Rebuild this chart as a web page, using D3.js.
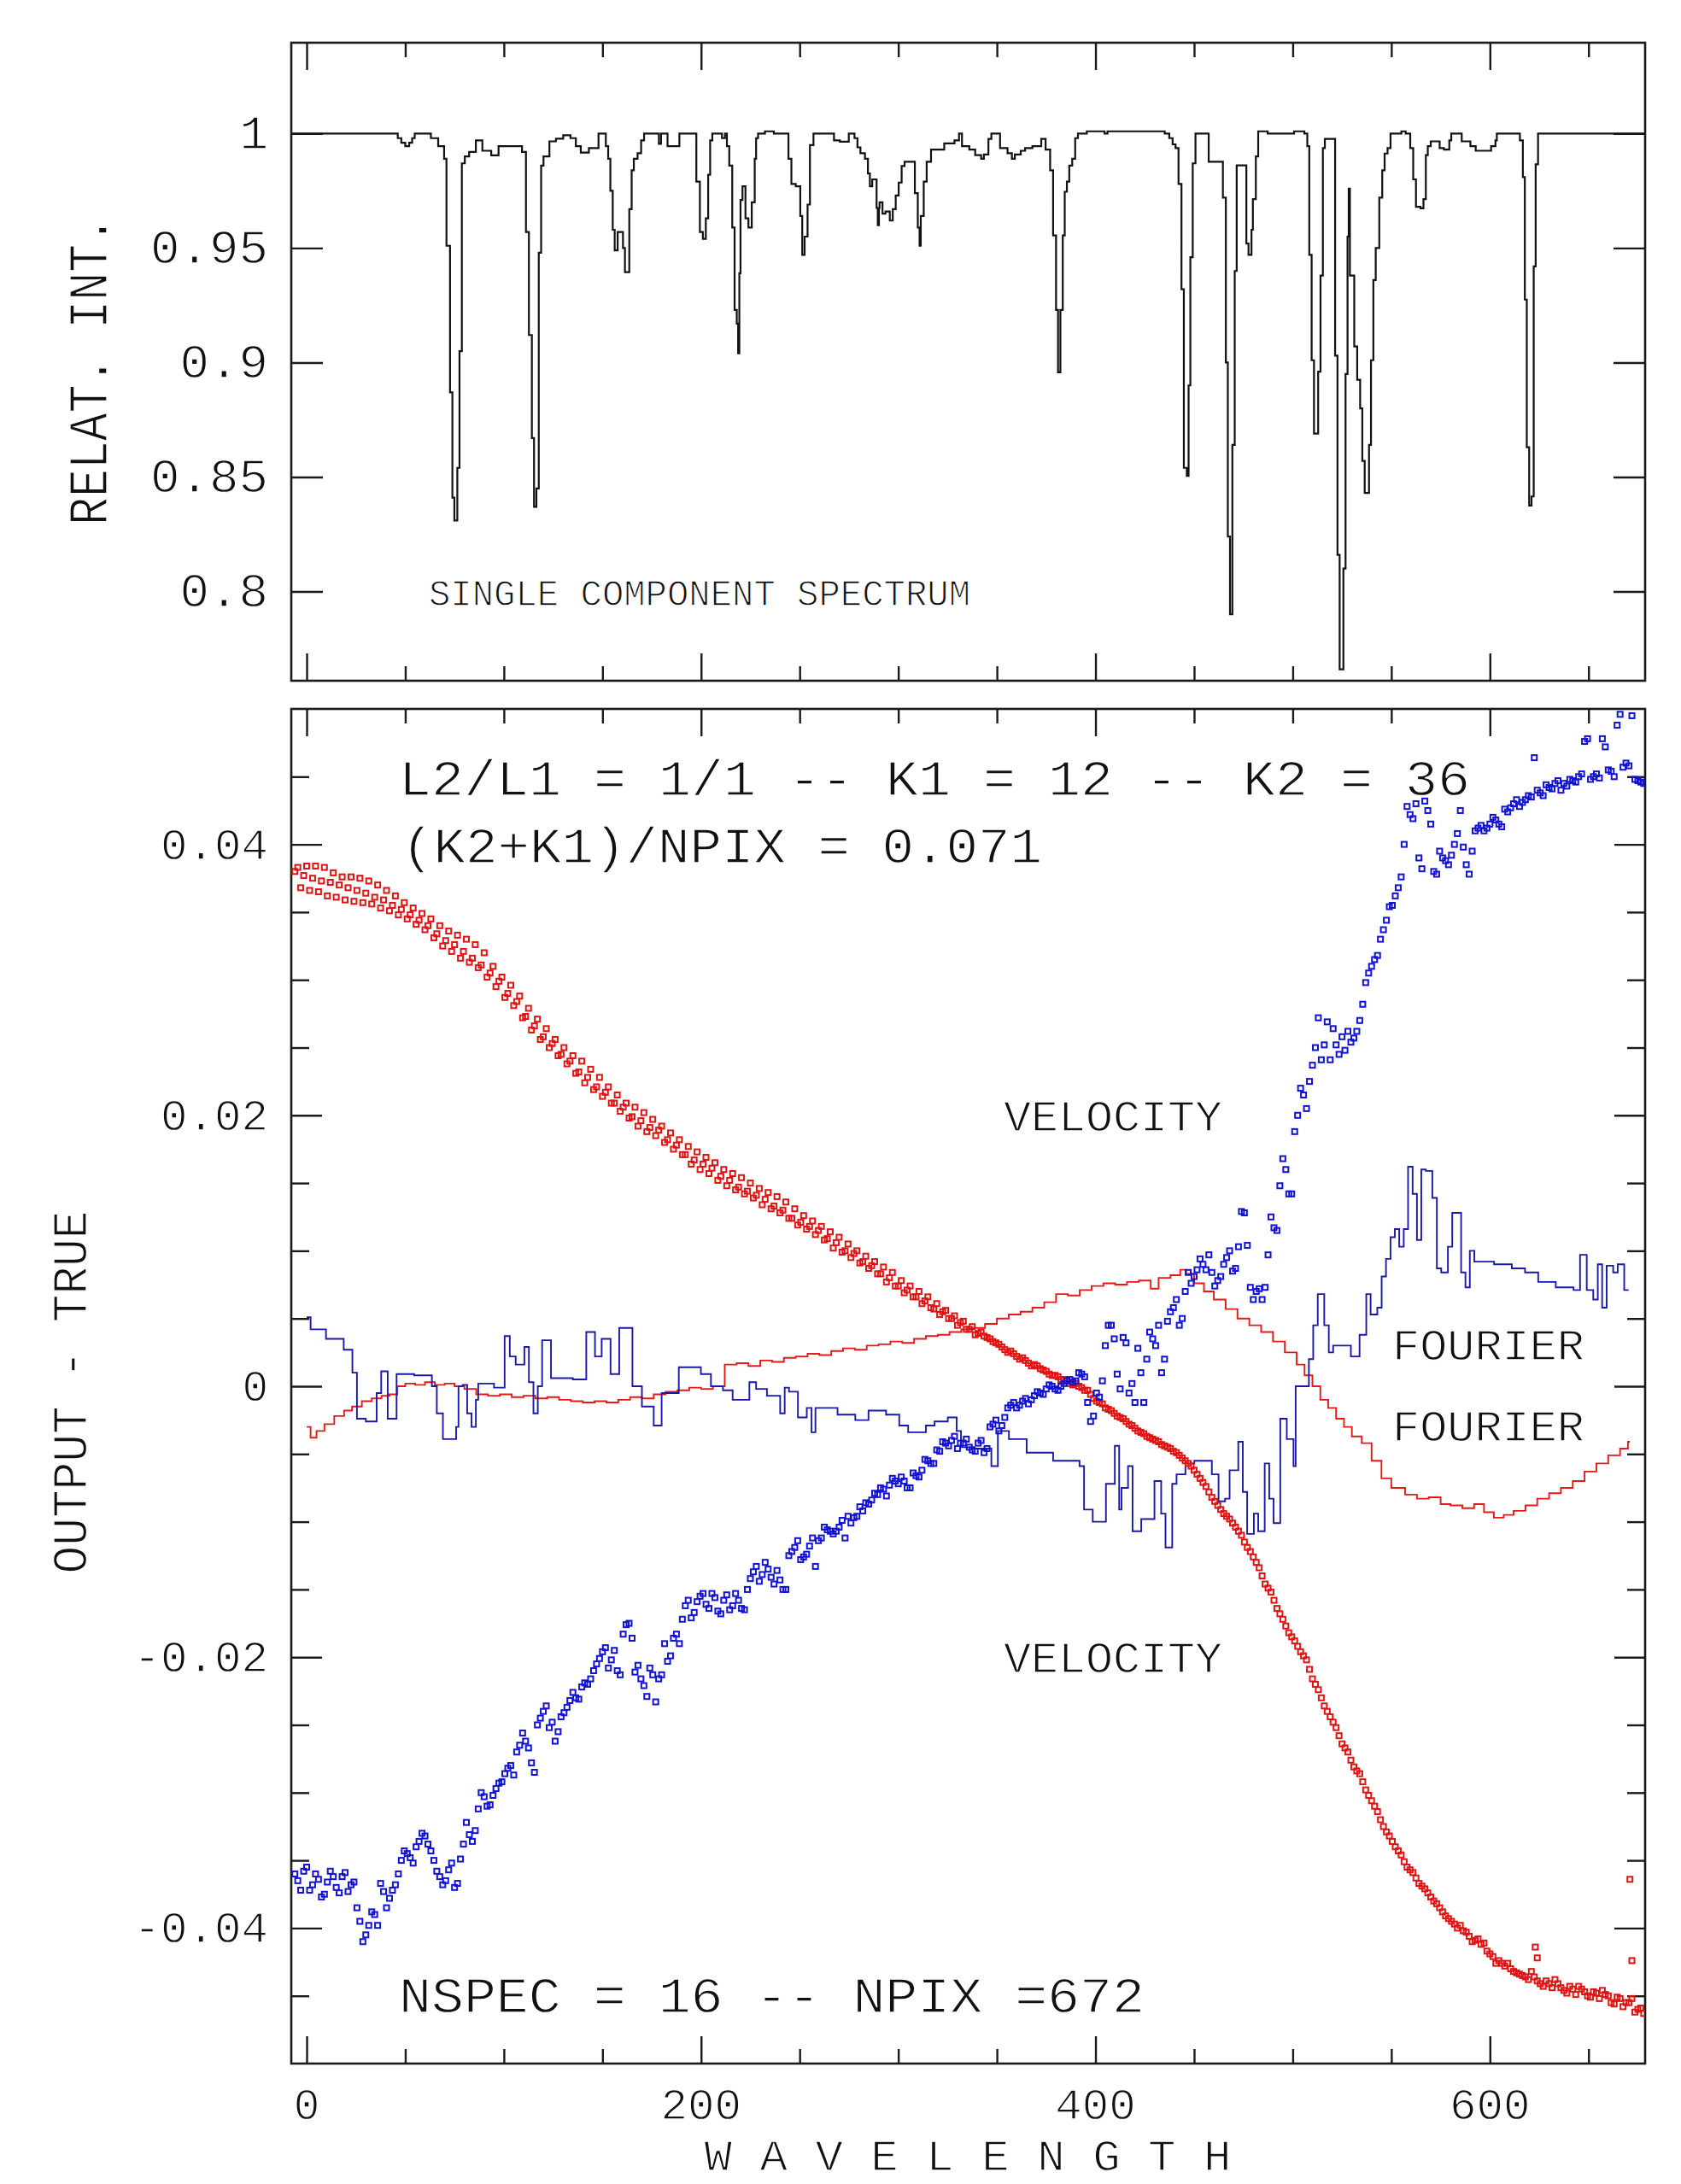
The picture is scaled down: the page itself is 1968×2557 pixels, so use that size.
<!DOCTYPE html>
<html>
<head>
<meta charset="utf-8">
<script src="https://cdn.jsdelivr.net/npm/d3@7"></script>
<style>
  body { margin: 0; background: #fff; }
  text { font-family: "Liberation Mono", "DejaVu Sans Mono", monospace; fill: #111; stroke: #fff; stroke-width: 1.3px; }
</style>
</head>
<body>
<svg id="chart" width="1968" height="2557"></svg>
<script>
// ---- data ----
// top panel: single component spectrum, steps as [pixel, relative intensity]
const spectrumSteps = [
  [-8, 1.000], [46.2, 0.998], [48, 0.996], [50, 0.9945], [52, 0.996], [53.5, 0.998], [54.8, 1.000],
  [63.0, 0.998], [66.7, 0.9945], [69.7, 0.989], [70.9, 0.951], [72.7, 0.887], [73.9, 0.841], [74.9, 0.831],
  [76.4, 0.854], [77.5, 0.905], [78.7, 0.987], [80.2, 0.990], [82.4, 0.992], [85.8, 0.997], [89.1, 0.9925],
  [93.6, 0.9905], [97.3, 0.9945], [109.2, 0.992], [111.2, 0.957], [112.7, 0.912], [114.2, 0.867], [115.3, 0.837],
  [116.5, 0.845], [117.7, 0.948], [118.9, 0.986], [120.1, 0.990], [123.1, 0.9966], [126.4, 0.9978], [130.1, 0.9993],
  [133.8, 0.998], [136.5, 0.9945], [139.0, 0.9917], [143.1, 0.9937], [148.0, 1.000], [151.7, 0.9945], [152.9, 0.989],
  [154.0, 0.975], [155.2, 0.958], [156.2, 0.949], [157.7, 0.957], [160.4, 0.950], [161.4, 0.9395], [163.6, 0.967],
  [164.8, 0.984], [165.9, 0.989], [167.8, 0.9914], [169.6, 0.997], [171.1, 1.000], [178.6, 0.9955], [179.7, 1.000],
  [183.0, 0.9945], [189.0, 1.000], [197.6, 0.979], [199.4, 0.957], [200.9, 0.954], [202.4, 0.963], [203.6, 0.982],
  [204.6, 0.997], [205.7, 1.000], [210.6, 0.998], [212.1, 1.000], [213.1, 0.9945], [214.3, 0.986], [215.8, 0.959],
  [217.0, 0.923], [218.1, 0.917], [218.8, 0.904], [219.4, 0.939], [220.0, 0.971], [221.0, 0.977], [222.5, 0.963],
  [224.0, 0.959], [225.7, 0.970], [227.2, 0.989], [227.9, 0.998], [228.9, 1.000], [232.4, 1.001], [236.9, 1.000],
  [244.3, 0.989], [245.8, 0.978], [248.0, 0.977], [250.3, 0.964], [251.3, 0.947], [252.5, 0.955], [254.0, 0.969],
  [255.2, 0.995], [257.0, 1.000], [267.4, 0.997], [270.4, 0.9965], [274.9, 1.000], [277.8, 0.998], [279.3, 0.994],
  [280.8, 0.9914], [283.1, 0.989], [284.6, 0.9826], [285.6, 0.977], [286.8, 0.980], [289.0, 0.9675], [289.6, 0.960],
  [290.2, 0.9675], [290.5, 0.970], [292.0, 0.965], [293.5, 0.966], [295.7, 0.962], [297.2, 0.967], [298.7, 0.973],
  [300.2, 0.9786], [301.7, 0.9858], [303.2, 0.9877], [308.4, 0.974], [309.9, 0.959], [310.8, 0.951], [311.4, 0.964],
  [312.9, 0.979], [314.4, 0.9877], [316.6, 0.993], [323.3, 0.9957], [328.5, 0.997], [330.8, 1.000], [332.3, 0.9945],
  [336.0, 0.993], [339.0, 0.9906], [342.0, 0.989], [343.4, 0.9909], [345.7, 0.9977], [347.2, 1.000], [351.6, 0.9937],
  [355.4, 0.9914], [357.6, 0.989], [359.1, 0.9909], [362.1, 0.9925], [364.3, 0.9937], [368.0, 0.9945], [372.5, 0.9977],
  [374.7, 0.993], [377.0, 0.984], [378.5, 0.9555], [380.0, 0.923], [381.0, 0.8957], [382.2, 0.923], [383.4, 0.9555],
  [384.4, 0.9746], [385.5, 0.979], [386.7, 0.986], [388.2, 0.989], [389.7, 0.998], [391.1, 1.000], [395.6, 1.001],
  [404.6, 1.000], [406.1, 1.001], [435.1, 1.000], [437.4, 0.998], [439.1, 0.9953], [440.6, 0.9937], [442.1, 0.978],
  [443.6, 0.932], [444.8, 0.854], [446.3, 0.8505], [447.2, 0.890], [448.1, 0.946], [449.3, 0.987], [450.7, 1.000],
  [457.4, 0.9877], [464.6, 0.972], [466.1, 0.900], [467.1, 0.824], [468.2, 0.790], [469.4, 0.864], [470.6, 0.940],
  [471.6, 0.9861], [476.5, 0.952], [477.6, 0.947], [479.1, 0.958], [479.8, 0.9714], [481.3, 0.990], [482.5, 1.001],
  [487.3, 1.000], [500.7, 1.001], [505.9, 1.000], [507.4, 0.9945], [508.4, 0.947], [509.6, 0.901], [510.8, 0.869],
  [512.9, 0.896], [514.1, 0.938], [515.3, 0.9937], [516.3, 0.9977], [521.5, 0.903], [522.7, 0.816], [523.8, 0.766],
  [525.7, 0.810], [526.8, 0.895], [527.8, 0.955], [528.4, 0.976], [529.0, 0.938], [531.2, 0.907], [532.7, 0.8925],
  [534.2, 0.880], [535.3, 0.857], [536.5, 0.843], [538.7, 0.864], [539.7, 0.901], [540.9, 0.936], [542.1, 0.950],
  [543.9, 0.972], [545.4, 0.984], [546.6, 0.9913], [548.1, 0.9937], [549.6, 1.000], [555.1, 1.001], [557.3, 1.000],
  [559.6, 0.9937], [561.1, 0.980], [562.5, 0.968], [564.8, 0.9674], [566.3, 0.9714], [567.5, 0.9906], [568.5, 0.9945],
  [570.0, 0.9966], [574.5, 0.9937], [576.7, 0.993], [579.4, 0.997], [580.4, 1.000], [585.7, 0.9966], [590.1, 0.9945],
  [592.8, 0.9925], [600.6, 0.9945], [602.8, 0.997], [603.5, 1.000], [615.2, 0.997], [616.7, 0.981], [617.7, 0.9275],
  [618.7, 0.863], [619.9, 0.8375], [621.1, 0.8415], [622.2, 0.942], [623.2, 0.9866], [624.4, 1.000], [680, 1.000]
]

// bottom panel, output - true in units of 1e-4
// fourier method, blue trace, steps as [pixel, value]
const fourierBlue = [
  [0, 51], [2, 42], [9.8, 35], [18.8, 27], [23.2, 10], [25.5, -24], [30, -26], [35.5, -5], [37.8, 11], [41.1, -24],
  [45.6, 9], [54.5, 8], [63.5, 0], [66, -20], [69.1, -39], [75.8, -30], [77, 0], [79.1, 1], [81.4, -20], [83.6, -30],
  [85.8, -10], [87, 2], [95, -1], [100.4, 37], [103, 22], [106, 16], [110.4, 29], [112.7, 3], [115, -20], [117.2, 0],
  [119.4, 34], [123.9, 6], [135, 5], [141.8, 40], [146.2, 22], [149.6, 35], [154.1, 9], [158.5, 43], [165.2, 0],
  [170, -15], [176, -29], [180, -5], [188.7, 14], [199.9, 9], [205, 0], [211.1, -3], [216, -10], [224.5, 3],
  [227.9, -2], [233.4, -7], [240.1, -20], [242.4, -1], [244.6, -4], [249.1, -23], [253.6, -16], [256, -34], [258, -16],
  [269.2, -21], [278.2, -25], [284.9, -18], [293.8, -21], [300.5, -29], [305, -34], [314, -29], [318.4, -26],
  [325.1, -23], [329.6, -33], [331.8, -45], [338.1, -46], [347.2, -59], [350.5, -33], [356.1, -39], [365.1, -49],
  [378.5, -55], [391.9, -59], [394.2, -91], [398.6, -100], [405.3, -72], [409.8, -44], [412, -91], [413.2, -75],
  [416.5, -59], [418.8, -107], [423.2, -98], [429.9, -70], [433.3, -94], [435.5, -119], [438.9, -72], [441.1, -65],
  [445.6, -57], [450.1, -55], [459, -65], [462.4, -85], [465.7, -83], [468, -62], [472.4, -41], [474.7, -78],
  [476.9, -109], [480.3, -94], [482.5, -107], [485.8, -57], [488.1, -83], [490.3, -101], [493.7, -24], [497, -39],
  [500.4, -59], [501.5, 0], [508.2, 20], [510.4, 45], [512.7, 68], [516, 45], [518.3, 25], [520.5, 30], [529.5, 22],
  [533.9, 38], [537.3, 68], [539.5, 53], [542.9, 58], [545.1, 81], [547.3, 94], [549.6, 110], [551.8, 116],
  [554, 103], [556.3, 116], [558.5, 162], [560.8, 142], [563, 108], [565.2, 160], [567.5, 159], [570.8, 139],
  [573.1, 87], [575.3, 84], [578.7, 103], [580.9, 128], [585.4, 84], [587.6, 73], [589.8, 100], [592.1, 92],
  [602.1, 90], [611.1, 87], [617.8, 84], [624.5, 77], [633.4, 73], [642.4, 71], [645.7, 97], [649.1, 71],
  [652.4, 64], [654.7, 90], [656.9, 58], [659.2, 89], [662.5, 84], [664.8, 90], [668.1, 71], [670.3, 71]
]

// fourier method, red trace
const fourierRed = [
  [0, -30], [2, -38], [5, -33], [9, -28], [14, -22], [19, -18], [23, -15], [28, -11], [33, -9], [38, -7],
  [42, -6], [46, 0], [50, 2], [55, 1], [60, 3], [65, 1], [70, 2], [75, 0], [80, -2], [86, -6], [92, -7],
  [98, -6], [104, -8], [110, -7], [116, -9], [122, -8], [128, -10], [134, -11], [140, -12], [146, -11],
  [152, -12], [158, -10], [164, -8], [170, -9], [176, -6], [182, -4], [188, -3], [194, -1], [200, -2],
  [206, 0], [212, 16], [218, 17], [224, 15], [230, 19], [236, 18], [242, 21], [248, 22], [254, 24], [260, 23],
  [266, 26], [272, 28], [278, 27], [284, 30], [290, 31], [296, 33], [302, 32], [308, 35], [314, 37], [320, 38],
  [326, 40], [332, 42], [338, 43], [344, 46], [350, 50], [356, 53], [362, 55], [368, 58], [374, 62], [380, 68],
  [386, 67], [392, 71], [398, 74], [404, 76], [410, 75], [416, 77], [422, 78], [428, 72], [432, 80], [438, 82],
  [443, 86], [446, 83], [450, 76], [455, 70], [460, 64], [466, 57], [472, 50], [478, 45], [484, 40], [490, 33],
  [496, 25], [502, 16], [506, 8], [510, 0], [514, -10], [518, -16], [522, -24], [526, -30], [530, -37],
  [535, -42], [540, -55], [545, -68], [550, -75], [557, -80], [563, -83], [569, -82], [575, -87], [580, -88],
  [586, -90], [592, -87], [597, -93], [602, -97], [607, -95], [612, -92], [618, -88], [624, -83], [630, -79],
  [636, -75], [642, -70], [648, -63], [654, -57], [660, -51], [666, -46], [670, -41], [671, -41]
]

// velocity method: first estimate set, every third pixel from pixel -6
const velocityPix = d3.range(-6, 679, 3)
const velocityRed = [
  380, 368, 384, 375, 365, 383, 372, 361, 376, 368, 358,
  375, 364, 356, 370, 359, 351, 362, 352, 345, 353,
  344, 337, 345, 334, 325, 336, 326, 316, 330, 316,
  309, 320, 305, 295, 302, 290, 281, 288, 273, 263,
  271, 258, 250, 256, 245, 238, 244, 232, 224, 234,
  221, 214, 221, 209, 203, 209, 199, 192, 202, 191,
  185, 192, 182, 175, 182, 171, 164, 173, 164, 157,
  165, 155, 148, 157, 147, 142, 150, 141, 134, 143,
  133, 128, 136, 124, 119, 126, 118, 112, 118, 109,
  102, 110, 100, 95, 100, 92, 87, 92, 83, 77,
  84, 74, 69, 74, 66, 61, 66, 57, 53, 56,
  50, 45, 48, 42, 38,
  40, 36, 33, 31, 27, 26, 22, 21, 17, 16,
  13, 11, 8, 7, 5, 2, 2, -1, -3, -9,
  -12, -16, -18, -22, -24, -28, -31, -34, -37, -39,
  -41, -44, -46, -49, -53, -57, -62, -68, -74, -82,
  -88, -94, -98, -104, -110, -119, -126, -134, -146, -152,
  -164, -172, -182, -188, -196, -202, -216, -224, -236, -244,
  -252, -264, -270, -281, -286, -298, -306, -314, -325, -332,
  -340, -346, -355, -359, -367, -371, -377, -382, -388, -393,
  -397, -398, -403, -410, -408, -411, -419, -426, -426, -426,
  -432, -434, -436, -432, -439, -443, -441, -438, -444, -448,
  -445, -443, -447, -451, -448, -446, -450, -456, -452, -455,
  -452, -460, -463
]
const velocityBlue = [
  -360, -372, -355, -368, -364, -375, -358, -370, -362, -373, -366,
  -395, -405, -388, -398, -373, -378, -368, -350, -345, -352,
  -336, -332, -343, -358, -368, -357, -370, -349, -322, -336,
  -312, -303, -309, -297, -292, -282, -287, -265, -262, -278,
  -250, -240, -252, -262, -244, -237, -226, -231, -219, -216,
  -205, -196, -208, -195, -213, -176, -186, -206, -221, -208,
  -233, -213, -203, -186, -190, -162, -171, -159, -153, -164,
  -156, -168, -154, -162, -158, -165, -142, -133, -139, -135,
  -146, -143, -150, -122, -114, -126, -118, -133, -112, -106,
  -109, -104, -112, -101, -96, -92, -87, -79, -75, -81,
  -68, -72, -70, -75, -66, -62, -55, -57, -48, -42,
  -40, -46, -42, -45, -48, -40, -46, -28, -33, -23,
  -14, -16, -11, -13, -7, -5, -2, 0, -3, 2,
  5, 4, 9, -12, -22, -8, 30, 45, 9, 36,
  -5, -12, 10, 20, 35, 45, 20, 55, 64, 50,
  84, 81, 94, 86, 84, 78, 90, 100, 87, 129,
  104, 64, 72, 73, 125, 115, 168, 142, 188, 220,
  205, 237, 272, 252, 241, 252, 258, 262, 257, 270,
  298, 310, 318, 337, 354, 362, 376, 428, 419, 390,
  432, 415, 378, 390, 385, 400, 425, 385, 395, 412,
  410, 415, 418, 413, 424, 430, 428, 433, 435, 440,
  436, 442, 445, 440, 443, 447, 450, 476, 448, 452,
  478, 455, 450, 496, 460, 495, 447, 445
]

// second estimate set, every third pixel from pixel -4.5
const velocityPixB = d3.range(-4.5, 679, 3)
const velocityRedB = [
  383, 377, 366, 384, 373, 362, 379, 370, 359, 376,
  366, 357, 373, 361, 353, 366, 355, 348, 357, 348,
  341, 349, 340, 331, 340, 329, 321, 333, 321, 313,
  326, 311, 302, 310, 299, 287, 296, 284, 272, 279,
  266, 256, 264, 253, 244, 250, 240, 231, 240, 228,
  219, 228, 217, 209, 215, 206, 198, 206, 196, 188,
  197, 189, 180, 187, 178, 171, 177, 167, 160, 169,
  161, 152, 160, 152, 145, 154, 144, 139, 146, 138,
  131, 140, 130, 124, 131, 121, 116, 122, 115, 108,
  114, 106, 99, 105, 98, 91, 96, 89, 83, 88,
  80, 74, 78, 71, 66, 70, 63, 58, 61, 55,
  50, 52, 47, 42, 44,
  39, 37, 35, 32, 29, 25, 24, 20, 19, 15,
  15, 12, 9, 8, 5, 4, 1, 0, -3, -6,
  -11, -13, -17, -20, -23, -26, -29, -33, -35, -38,
  -40, -43, -45, -48, -51, -55, -59, -65, -71, -78,
  -85, -91, -96, -101, -107, -115, -122, -130, -140, -149,
  -158, -168, -177, -185, -192, -199, -209, -220, -230, -240,
  -248, -258, -267, -276, -284, -292, -302, -310, -320, -329,
  -336, -343, -351, -357, -363, -369, -374, -380, -385, -391,
  -395, -400, -402, -406, -409, -412, -417, -421, -424, -428,
  -430, -433, -435, -438, -436, -441, -439, -444, -441, -446,
  -443, -449, -445, -450, -447, -452, -449, -455, -451, -458,
  -455, -462, -459
]
const velocityBlueB = [
  -365, -358, -372, -360, -377, -366, -362, -374, -359, -368,
  -385, -410, -398, -390, -367, -385, -372, -360, -343, -348,
  -340, -330, -338, -350, -362, -365, -352, -367, -338, -331,
  -328, -300, -310, -302, -293, -286, -280, -270, -256, -267,
  -285, -245, -236, -248, -255, -241, -232, -230, -222, -220,
  -210, -201, -193, -202, -210, -183, -175, -211, -216, -229,
  -213, -216, -190, -199, -183, -172, -158, -167, -155, -161,
  -153, -166, -158, -165, -153, -164, -150, -137, -144, -130,
  -141, -136, -150, -125, -119, -128, -124, -112, -114, -104,
  -107, -107, -99, -96, -97, -89, -86, -84, -80, -76,
  -73, -70, -67, -75, -64, -67, -54, -57, -47, -41,
  -44, -37, -42, -39, -47, -42, -49, -30, -25, -29,
  -16, -12, -14, -9, -10, -4, -6, 1, -2, 0,
  4, 3, 10, 7, -26, -5, 4, 45, 35, -2,
  32, 2, 28, -12, 40, 30, 10, 48, 58, 45,
  70, 76, 86, 90, 97, 74, 81, 95, 85, 103,
  128, 73, 70, 64, 97, 117, 148, 160, 142, 200,
  215, 225, 250, 241, 269, 264, 245, 248, 254, 262,
  282, 305, 315, 330, 344, 355, 368, 400, 422, 430,
  382, 425, 380, 395, 388, 392, 408, 398, 378, 410,
  414, 412, 420, 415, 426, 427, 433, 431, 436, 464,
  438, 444, 441, 447, 445, 448, 446, 452, 478, 450,
  449, 472, 454, 488, 457, 458, 448, 446
]

// stray red velocity points
const redStrayPix = [623, 624, 671, 672]
const redStrayVal = [-414, -422, -364, -424]

// axis ticks
const xMajor = [0, 200, 400, 600]
const xMinor = [50, 100, 150, 250, 300, 350, 450, 500, 550, 650]
const yTopTicks = [0.8, 0.85, 0.9, 0.95, 1]
const yTopLabels = ['0.8', '0.85', '0.9', '0.95', '1']
const yBotMajor = [-0.04, -0.02, 0, 0.02, 0.04]
const yBotLabels = ['-0.04', '-0.02', '0', '0.02', '0.04']
const yBotMinor = [-0.045, -0.035, -0.03, -0.025, -0.015, -0.01, -0.005,
  0.005, 0.01, 0.015, 0.025, 0.03, 0.035, 0.045]
const xLabels = ['0', '200', '400', '600']

// ---- layout ----
const frame = { left: 341, right: 1926 }
const topPanel = { top: 50, bottom: 797 }
const botPanel = { top: 830, bottom: 2416 }

const blueLine = '#1a1aa6', blueMark = '#1212d2',
    redLine = '#e41a1a', redMark = '#e01212'

const x = d3.scaleLinear().domain([-7.8, 678.7]).range([frame.left, frame.right])
const yTop = d3.scaleLinear().domain([0.761, 1.0397]).range([topPanel.bottom, topPanel.top])
const yBot = d3.scaleLinear().domain([-0.05, 0.05]).range([botPanel.bottom, botPanel.top])

const svg = d3.select('#chart')

svg.append('rect').attr('width', 1968).attr('height', 2557).attr('fill', '#fff')

const defs = svg.append('defs')
defs.append('clipPath').attr('id', 'clipTop')
    .append('rect')
    .attr('x', frame.left).attr('y', topPanel.top)
    .attr('width', frame.right - frame.left).attr('height', topPanel.bottom - topPanel.top)
defs.append('clipPath').attr('id', 'clipBot')
    .append('rect')
    .attr('x', frame.left).attr('y', botPanel.top)
    .attr('width', frame.right - frame.left).attr('height', botPanel.bottom - botPanel.top)

// ---- text ----
function label(str, px, py, size, len, anchor, rotate) {
    const t = svg.append('text')
        .attr('x', px).attr('y', py)
        .attr('font-size', size)
        .attr('text-anchor', anchor || 'start')
        .text(str)
    if (len) t.attr('textLength', len).attr('lengthAdjust', 'spacingAndGlyphs')
    if (rotate) t.attr('transform', `rotate(-90, ${px}, ${py})`)
    return t
}

label('RELAT. INT.', 125, 434, 64, 362, 'middle', true)
label('OUTPUT - TRUE', 101, 1630, 57, 425, 'middle', true)
label('W A V E L E N G T H', 1133, 2541, 51, 617, 'middle')

label('SINGLE COMPONENT SPECTRUM', 502, 709, 45, 634)
label('L2/L1 = 1/1 -- K1 = 12 -- K2 = 36', 467, 931, 59, 1254)
label('(K2+K1)/NPIX = 0.071', 470, 1010, 59, 750)
label('VELOCITY', 1175, 1324, 51, 256)
label('FOURIER', 1630, 1592, 51, 225)
label('FOURIER', 1630, 1687, 51, 225)
label('VELOCITY', 1175, 1958, 51, 256)
label('NSPEC = 16 -- NPIX =672', 467, 2356, 59, 873)

yTopTicks.forEach((v, i) => {
    const s = yTopLabels[i]
    label(s, 314, yTop(v) + 18, 56, s.length > 1 ? s.length * 34.5 : null, 'end')
})
yBotMajor.forEach((v, i) => {
    const s = yBotLabels[i]
    label(s, 314, yBot(v) + 17, 51, s.length > 1 ? s.length * 31.5 : null, 'end')
})
xMajor.forEach((v, i) => {
    const s = xLabels[i]
    label(s, x(v), 2481, 51, s.length > 1 ? s.length * 31.5 : null, 'middle')
})

// ---- frames and ticks ----
function panelTicks(panel, yScale, yMajorVals, yMajorLen, yMinorVals, yMinorLen) {
    const g = svg.append('g').attr('color', '#1a1a1a')
    const put = (axis, pos, vals, len) => {
        const a = g.append('g').attr('transform', pos)
            .call(axis.tickValues(vals).tickSize(-len).tickFormat(''))
        a.select('.domain').remove()
        a.selectAll('line').attr('stroke-width', 2.4)
    }
    put(d3.axisBottom(x), `translate(0,${panel.bottom})`, xMajor, 32)
    put(d3.axisBottom(x), `translate(0,${panel.bottom})`, xMinor, 17)
    put(d3.axisTop(x), `translate(0,${panel.top})`, xMajor, 32)
    put(d3.axisTop(x), `translate(0,${panel.top})`, xMinor, 17)
    put(d3.axisLeft(yScale), `translate(${frame.left},0)`, yMajorVals, yMajorLen)
    put(d3.axisRight(yScale), `translate(${frame.right},0)`, yMajorVals, yMajorLen)
    if (yMinorVals) {
        put(d3.axisLeft(yScale), `translate(${frame.left},0)`, yMinorVals, yMinorLen)
        put(d3.axisRight(yScale), `translate(${frame.right},0)`, yMinorVals, yMinorLen)
    }
    g.append('rect')
        .attr('x', frame.left).attr('y', panel.top)
        .attr('width', frame.right - frame.left).attr('height', panel.bottom - panel.top)
        .attr('fill', 'none').attr('stroke', '#1a1a1a').attr('stroke-width', 2.6)
}

panelTicks(topPanel, yTop, yTopTicks, 37)
panelTicks(botPanel, yBot, yBotMajor, 36, yBotMinor, 21)

// ---- top panel spectrum ----
const stepLine = (ys) => d3.line()
    .x(d => x(d[0]))
    .y(d => ys(d[1]))
    .curve(d3.curveStepAfter)

svg.append('path')
    .datum(spectrumSteps)
    .attr('clip-path', 'url(#clipTop)')
    .attr('fill', 'none')
    .attr('stroke', '#111')
    .attr('stroke-width', 2.2)
    .attr('d', stepLine(yTop))

// ---- bottom panel ----
const bot = svg.append('g').attr('clip-path', 'url(#clipBot)')
const scaled = (arr) => arr.map(([p, v]) => [p, v / 1e4])

bot.append('path')
    .datum(scaled(fourierRed))
    .attr('fill', 'none').attr('stroke', redLine).attr('stroke-width', 1.9)
    .attr('d', stepLine(yBot))

bot.append('path')
    .datum(scaled(fourierBlue))
    .attr('fill', 'none').attr('stroke', blueLine).attr('stroke-width', 1.9)
    .attr('d', stepLine(yBot))

function squares(pix, vals, color) {
    const pts = d3.zip(pix, vals)
    bot.append('g')
        .selectAll('rect')
        .data(pts)
        .join('rect')
        .attr('x', d => x(d[0]) - 3)
        .attr('y', d => yBot(d[1] / 1e4) - 3)
        .attr('width', 6)
        .attr('height', 6)
        .attr('fill', 'none')
        .attr('stroke', color)
        .attr('stroke-width', 2)
}

squares(velocityPix, velocityRed, redMark)
squares(velocityPixB, velocityRedB, redMark)
squares(redStrayPix, redStrayVal, redMark)
squares(velocityPix, velocityBlue, blueMark)
squares(velocityPixB, velocityBlueB, blueMark)
</script>
</body>
</html>
